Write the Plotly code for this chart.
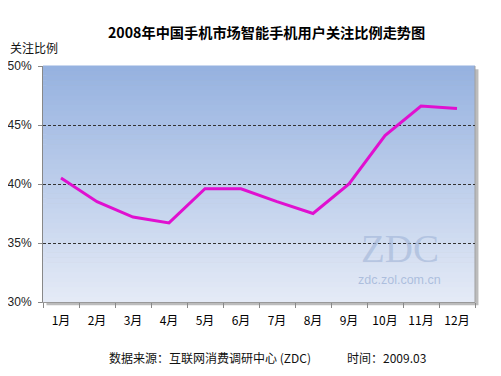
import plotly.graph_objects as go

months = ["1月", "2月", "3月", "4月", "5月", "6月", "7月", "8月", "9月", "10月", "11月", "12月"]
share = [40.5, 38.5, 37.2, 36.7, 39.6, 39.6, 38.5, 37.5, 40.0, 44.1, 46.6, 46.4]
y_ticks = [30, 35, 40, 45, 50]
y_tick_text = ["30%", "35%", "40%", "45%", "50%"]

CJK = "Noto Sans CJK SC, Liberation Sans, sans-serif"
LAT = "Liberation Sans, Arial, sans-serif"

fig = go.Figure()
fig.add_trace(go.Scatter(
    x=months, y=share, mode="lines",
    line=dict(color="#e010d0", width=3),
    hoverinfo="x+y",
))

shapes = []
# shadow
shapes.append(dict(type="rect", xref="x domain", yref="y domain",
                   x0=0.008, x1=1.008, y0=-0.014, y1=0.986,
                   fillcolor="#bcbcbc", line=dict(width=0), layer="below"))
# gradient background
n = 48
top = (150, 178, 224)
bot = (228, 234, 246)
for i in range(n):
    t = i / (n - 1)
    c = tuple(round(bot[k] + (top[k] - bot[k]) * t) for k in range(3))
    shapes.append(dict(type="rect", xref="x domain", yref="y domain",
                       x0=0, x1=1, y0=i / n, y1=(i + 1) / n + 0.002,
                       fillcolor="rgb(%d,%d,%d)" % c, line=dict(width=0), layer="below"))
shapes.append(dict(type="line", xref="x domain", yref="y domain",
                   x0=1, x1=1, y0=0, y1=1, line=dict(color="#a0a0a0", width=1), layer="below"))

fig.update_layout(
    width=493, height=368,
    margin=dict(l=35, r=26, t=58, b=74),
    paper_bgcolor="white",
    plot_bgcolor="rgba(0,0,0,0)",
    showlegend=False,
    shapes=shapes,
    xaxis=dict(
        range=[-0.5, 11.5], automargin=False,
        tickfont=dict(family=CJK, size=12, color="#000"),
        tickson="boundaries", ticks="outside", ticklen=5, tickcolor="#888",
        ticklabelstandoff=8,
        showline=True, linecolor="#999", linewidth=1,
        showgrid=False, fixedrange=True,
    ),
    yaxis=dict(
        range=[30, 50], tickvals=y_ticks, ticktext=y_tick_text, automargin=False,
        tickfont=dict(family=LAT, size=12, color="#222"),
        ticks="outside", ticklen=4, tickcolor="#888",
        ticklabelstandoff=4,
        showline=True, linecolor="#888", linewidth=1,
        showgrid=True, gridcolor="#333", griddash="3px,2px", gridwidth=1,
        zeroline=False, fixedrange=True,
    ),
    annotations=[
        dict(text="<b>2008年中国手机市场智能手机用户关注比例走势图</b>", xref="paper", yref="paper",
             x=0.5, y=1.0, xanchor="center", yanchor="middle", xshift=7, yshift=34,
             showarrow=False, font=dict(family=CJK, size=14.2, color="#000")),
        dict(text="关注比例", xref="paper", yref="paper", x=0, y=1, xanchor="left",
             yanchor="middle", xshift=-35, yshift=19, showarrow=False,
             font=dict(family=CJK, size=12, color="#111")),
        dict(text="ZDC", xref="paper", yref="paper", x=0.826, y=0.225, xanchor="center",
             yanchor="middle", showarrow=False,
             font=dict(family="Liberation Serif, serif", size=39, color="rgba(160,180,215,0.6)")),
        dict(text="zdc.zol.com.cn", xref="paper", yref="paper", x=0.826, y=0.095, xanchor="center",
             yanchor="middle", showarrow=False,
             font=dict(family=LAT, size=12.5, color="rgba(160,180,215,0.8)")),
        dict(text="数据来源：互联网消费调研中心 (ZDC)", xref="paper", yref="paper",
             x=0, y=0, xanchor="left", yanchor="middle", xshift=64, yshift=-55,
             showarrow=False, font=dict(family=CJK, size=12, color="#111")),
        dict(text="时间：2009.03", xref="paper", yref="paper",
             x=0, y=0, xanchor="left", yanchor="middle", xshift=302, yshift=-55,
             showarrow=False, font=dict(family=CJK, size=12, color="#111")),
    ],
)

fig.write_html("out.html")
